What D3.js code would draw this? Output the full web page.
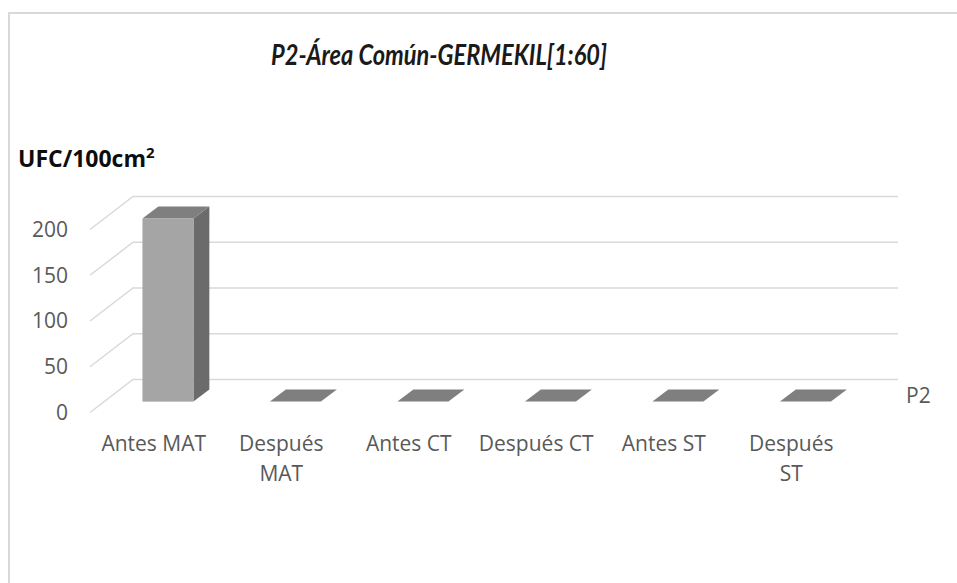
<!DOCTYPE html>
<html>
<head>
<meta charset="utf-8">
<script src="https://d3js.org/d3.v7.min.js"></script>
<style>
  body { margin: 0; background: #fff; }
  text { font-family: "Open Sans", sans-serif; }
</style>
</head>
<body>
<div id="chart"></div>
<script>
// data
var categories = ["Antes MAT", "Después MAT", "Antes CT", "Después CT", "Antes ST", "Después ST"];
var catLabels = [["Antes MAT"], ["Después", "MAT"], ["Antes CT"], ["Después CT"], ["Antes ST"], ["Después", "ST"]];
var values = [200, 0, 0, 0, 0, 0];
var yTicks = [0, 50, 100, 150, 200];
var seriesName = "P2";

var W = 957, H = 583;
var depthX = 43, depthY = -33;   // floor depth (front -> back wall)
var f0 = 0.33, f1 = 0.70;        // bar position inside the depth

var svg = d3.select("#chart").append("svg")
  .attr("width", W).attr("height", H);

// chart frame (cropped on right/bottom)
svg.append("rect")
  .attr("x", 9).attr("y", 13)
  .attr("width", 1000).attr("height", 700)
  .attr("fill", "none").attr("stroke", "#d9d9d9").attr("stroke-width", 2);

// title
svg.append("text")
  .attr("x", 439).attr("y", 65)
  .attr("text-anchor", "middle")
  .attr("textLength", 336).attr("lengthAdjust", "spacingAndGlyphs")
  .style("font-family", "Lato, sans-serif")
  .style("font-size", "29px").style("font-weight", "bold").style("font-style", "italic")
  .style("fill", "#1a1a1a")
  .text("P2-Área Común-GERMEKIL[1:60]");

// y axis title
var yt = svg.append("text")
  .attr("x", 18).attr("y", 167)
  .style("font-size", "23px").style("font-weight", "bold").style("fill", "#0d0d0d");
yt.append("tspan").text("UFC/100cm");
yt.append("tspan").attr("dy", -9).style("font-size", "15px").text("2");

// scales (front plane)
var x = d3.scaleBand()
  .domain(categories)
  .range([90, 855])
  .paddingInner(0.6)
  .paddingOuter(0.3);

var y = d3.scaleLinear()
  .domain([0, 200])
  .range([412.5, 229.5]);

var x0 = 90, x1 = 855 + depthX;

// gridlines: side wall diagonal + back wall horizontal
var grid = svg.append("g").attr("stroke", "#d9d9d9").attr("stroke-width", 1.5).attr("fill", "none");
yTicks.forEach(function(t) {
  grid.append("path")
    .attr("d", "M" + x0 + "," + y(t) +
               "L" + (x0 + depthX) + "," + (y(t) + depthY) +
               "L" + x1 + "," + (y(t) + depthY));
});

// y tick labels
svg.append("g").selectAll("text")
  .data(yTicks).enter().append("text")
  .attr("x", 68).attr("y", function(d) { return y(d); })
  .attr("dy", "0.35em")
  .attr("text-anchor", "end")
  .style("font-size", "21px").style("fill", "#595959")
  .text(function(d) { return d; });

// 3D bars
var bars = svg.append("g");
categories.forEach(function(c, i) {
  var v = values[i];
  var bw = x.bandwidth();
  var fx = x(c) + f0 * depthX, fy = f0 * depthY;
  var dx = (f1 - f0) * depthX, dy = (f1 - f0) * depthY;
  var yb = y(0) + fy, yt2 = y(v) + fy;
  if (v > 0) {
    // side face
    bars.append("path")
      .attr("d", "M" + (fx + bw) + "," + yt2 + "L" + (fx + bw + dx) + "," + (yt2 + dy) +
                 "L" + (fx + bw + dx) + "," + (yb + dy) + "L" + (fx + bw) + "," + yb + "Z")
      .attr("fill", "#6b6b6b");
    // front face
    bars.append("rect")
      .attr("x", fx).attr("y", yt2)
      .attr("width", bw).attr("height", yb - yt2)
      .attr("fill", "#a5a5a5");
  }
  // top face
  bars.append("path")
    .attr("d", "M" + fx + "," + yt2 + "L" + (fx + bw) + "," + yt2 +
               "L" + (fx + bw + dx) + "," + (yt2 + dy) + "L" + (fx + dx) + "," + (yt2 + dy) + "Z")
    .attr("fill", "#7f7f7f");
});

// category labels
var xl = svg.append("g").selectAll("text")
  .data(categories).enter().append("text")
  .attr("text-anchor", "middle")
  .attr("x", function(d) { return x(d) + x.bandwidth() / 2; })
  .attr("y", 451)
  .style("font-size", "21px").style("fill", "#595959");
xl.each(function(d, i) {
  var t = d3.select(this);
  catLabels[i].forEach(function(line, j) {
    t.append("tspan")
      .attr("x", x(d) + x.bandwidth() / 2)
      .attr("dy", j === 0 ? 0 : 30)
      .text(line);
  });
});

// series label
svg.append("text")
  .attr("x", 906).attr("y", 403)
  .style("font-size", "21px").style("fill", "#595959")
  .text(seriesName);
</script>
</body>
</html>
